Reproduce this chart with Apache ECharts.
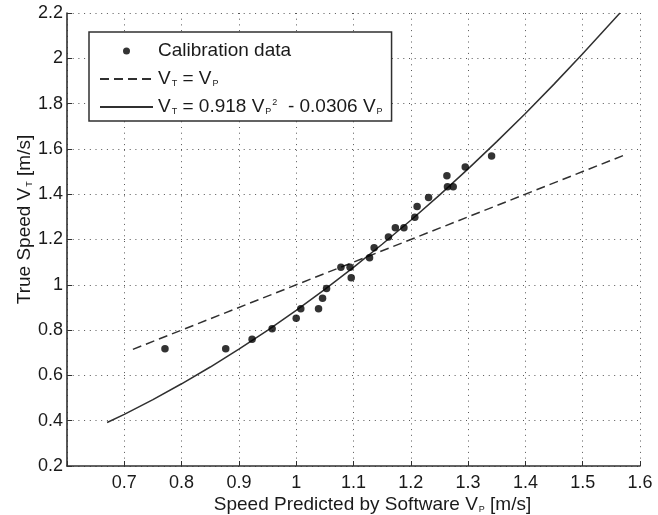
<!DOCTYPE html>
<html>
<head>
<meta charset="utf-8">
<script src="https://cdn.jsdelivr.net/npm/echarts@6/dist/echarts.min.js"></script>
<style>
  html, body { margin: 0; padding: 0; background: #fff; }
  #chart { width: 658px; height: 515px; }
</style>
</head>
<body>
<div id="chart"></div>
<script>
// calibration measurements (predicted speed, true speed)
const calibVp = [0.771, 0.877, 0.923, 0.958, 1.000, 1.008, 1.039, 1.046, 1.053, 1.078,
  1.094, 1.096, 1.128, 1.136, 1.161, 1.173, 1.188, 1.207, 1.211, 1.231,
  1.263, 1.264, 1.274, 1.295, 1.341]
const calibVt = [0.718, 0.718, 0.760, 0.806, 0.852, 0.894, 0.894, 0.941, 0.984, 1.077,
  1.077, 1.031, 1.119, 1.164, 1.211, 1.252, 1.252, 1.298, 1.346, 1.385,
  1.481, 1.433, 1.433, 1.520, 1.569]

// V_T = V_P reference line
const identityVp = [0.715, 1.575]
const identityVt = [0.715, 1.575]

// fitted curve as drawn
const fitVp = [0.67, 0.70, 0.75, 0.80, 0.85, 0.90, 0.95, 1.00, 1.05, 1.10,
  1.15, 1.20, 1.25, 1.30, 1.35, 1.40, 1.45, 1.50, 1.565]
const fitVt = [0.392, 0.428, 0.493, 0.563, 0.637, 0.716, 0.799, 0.887, 0.980, 1.077,
  1.179, 1.285, 1.396, 1.512, 1.632, 1.756, 1.886, 2.020, 2.200]

const xTicks = { min: 0.6, max: 1.6, step: 0.1 }
const yTicks = { min: 0.2, max: 2.2, step: 0.2 }

const legendLabels = {
  'Calibration data': 'Calibration data',
  identity: 'V{sub|T} = V{sub|P}',
  fit: 'V{sub|T} = 0.918 V{sub|P}{sup|2}  - 0.0306 V{sub|P}',
}

const zip = (a, b) => a.map((v, i) => [v, b[i]])

const FONT = 'Liberation Sans, Arial, sans-serif'
const INK = '#1a1a1a'
const LINE = '#303030'

const rich = {
  sub: { fontSize: 9, fontFamily: FONT, color: INK, padding: [10, 0, 0, 1] },
  sup: { fontSize: 9, fontFamily: FONT, color: INK, padding: [0, 0, 9, 1] },
}

const chart = echarts.init(document.getElementById('chart'), null, { renderer: 'canvas' })

const gridLine = { show: true, lineStyle: { color: '#555', width: 1, type: [1, 4.7] } }

chart.setOption({
  animation: false,
  backgroundColor: '#fff',
  // fixed plot box, no auto shrinking for labels
  grid: { left: 67, right: 18, top: 13, bottom: 49, outerBoundsMode: 'none' },
  legend: {
    data: [
      { name: 'Calibration data' },
      // line entries: hide the marker, keep the stroke
      { name: 'identity', itemStyle: { opacity: 0 } },
      { name: 'fit', itemStyle: { opacity: 0 } },
    ],
    orient: 'vertical',
    left: 89,
    top: 32,
    padding: [8, 9, 3, 10],
    itemWidth: 53,
    itemHeight: 7,
    itemGap: 6,
    backgroundColor: '#fff',
    borderColor: LINE,
    borderWidth: 1.5,
    borderRadius: 0,
    selectedMode: false,
    formatter: (name) => legendLabels[name],
    textStyle: { fontSize: 19, fontFamily: FONT, color: INK, lineHeight: 22, rich },
  },
  xAxis: {
    type: 'value',
    min: xTicks.min,
    max: xTicks.max,
    interval: xTicks.step,
    name: 'Speed Predicted by Software V{sub|P} [m/s]',
    nameLocation: 'middle',
    nameGap: 29,
    nameMoveOverlap: false,
    nameTextStyle: { fontSize: 19, fontFamily: FONT, color: INK, rich, padding: [0, 0, 0, 38] },
    axisLine: { show: true, onZero: false, lineStyle: { color: LINE, width: 1.6 } },
    axisTick: { show: true, inside: true, length: 5, lineStyle: { color: LINE } },
    axisLabel: {
      fontSize: 18, fontFamily: FONT, color: INK, margin: 8,
      formatter: (v) => (Math.abs(v - xTicks.min) < 1e-9 ? '' : String(+v.toFixed(1))),
    },
    splitLine: gridLine,
  },
  yAxis: {
    type: 'value',
    min: yTicks.min,
    max: yTicks.max,
    interval: yTicks.step,
    name: 'True Speed V{sub|T} [m/s]',
    nameLocation: 'middle',
    nameGap: 33,
    nameMoveOverlap: false,
    nameTextStyle: { fontSize: 19, fontFamily: FONT, color: INK, rich, padding: [0, 0, 0, 40] },
    axisLine: { show: true, onZero: false, lineStyle: { color: LINE, width: 1.6 } },
    axisTick: { show: true, inside: true, length: 5, lineStyle: { color: LINE } },
    axisLabel: {
      fontSize: 18, fontFamily: FONT, color: INK, margin: 4,
      formatter: (v) => String(+v.toFixed(1)),
    },
    splitLine: gridLine,
  },
  series: [
    {
      name: 'Calibration data',
      type: 'scatter',
      data: zip(calibVp, calibVt),
      symbol: 'circle',
      symbolSize: 7.5,
      itemStyle: { color: '#000' },
      z: 5,
    },
    {
      name: 'identity',
      type: 'line',
      data: zip(identityVp, identityVt),
      showSymbol: false,
      symbol: 'none',
      lineStyle: { color: LINE, width: 1.5, type: [9, 5] },
      itemStyle: { color: LINE },
      z: 3,
    },
    {
      name: 'fit',
      type: 'line',
      data: zip(fitVp, fitVt),
      showSymbol: false,
      symbol: 'none',
      lineStyle: { color: LINE, width: 1.5 },
      itemStyle: { color: LINE },
      z: 3,
    },
  ],
})
</script>
</body>
</html>
